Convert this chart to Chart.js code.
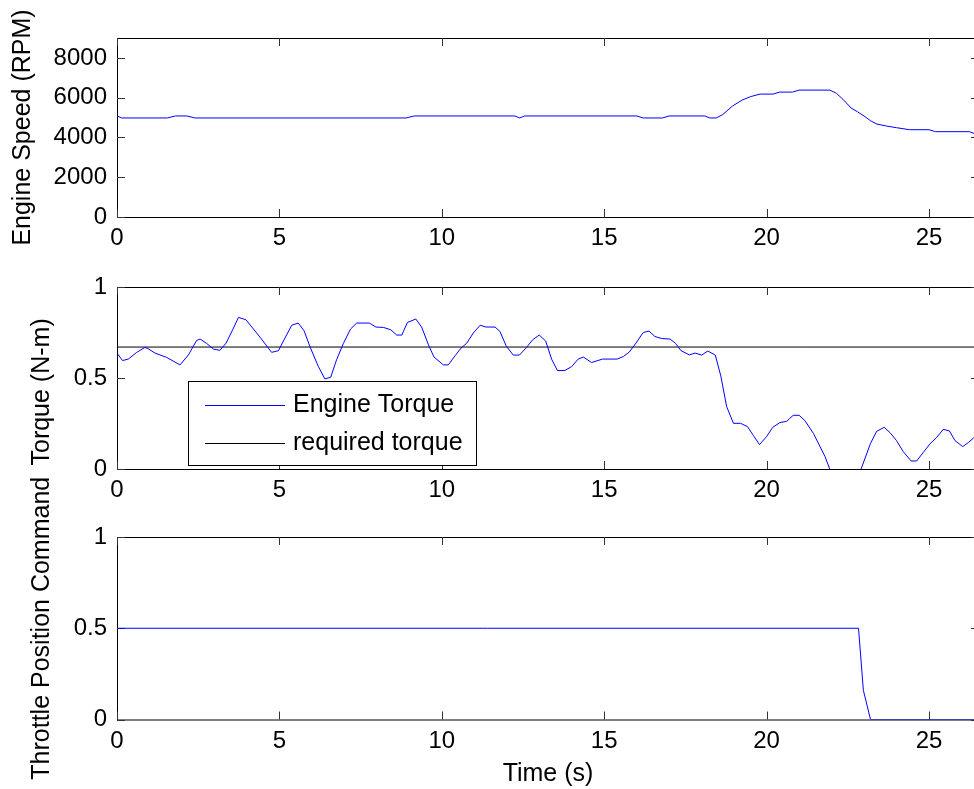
<!DOCTYPE html>
<html>
<head>
<meta charset="utf-8">
<script src="https://cdn.jsdelivr.net/npm/chart.js@4.4.1/dist/chart.umd.min.js"></script>
<style>
  body { margin: 0; background: #fff; }
  #wrap { position: relative; width: 974px; height: 789px; overflow: hidden; background: #fff; }
  canvas { position: absolute; left: 0; }
</style>
</head>
<body>
<div id="wrap">
  <canvas id="speedChart" width="990" height="260" style="top:0px"></canvas>
  <canvas id="torqueChart" width="990" height="255" style="top:255px"></canvas>
  <canvas id="throttleChart" width="990" height="319" style="top:470px"></canvas>
</div>
<script>
// ---- data ----
const xTicks = [0, 5, 10, 15, 20, 25];
const xMax = 26.54;

const speedTime = [0, 0.15, 1.55, 1.8, 2.15, 2.4, 8.9, 9.15, 12.25, 12.4, 12.55, 16.0, 16.2, 16.8, 17.0, 18.1, 18.25, 18.45,
  18.65, 18.95, 19.25, 19.5, 19.8, 20.2, 20.4, 20.8, 21.0, 21.95, 22.15, 22.35, 22.6, 22.8, 23.0, 23.2, 23.4, 23.7,
  24.0, 24.2, 24.4, 25.0, 25.2, 26.25, 26.4, 26.55];
const speedRpm = [5080, 4980, 4980, 5080, 5080, 4980, 4980, 5080, 5080, 4980, 5080, 5080, 4980, 4980, 5080, 5080, 4980, 4980,
  5150, 5580, 5880, 6050, 6180, 6180, 6280, 6280, 6380, 6380, 6220, 5920, 5480, 5290, 5080, 4840, 4670, 4570,
  4490, 4440, 4390, 4390, 4290, 4290, 4190, 4150];
const speedTicks = [0, 2000, 4000, 6000, 8000];

const torqueTime = [0, 0.17, 0.35, 0.6, 0.86, 0.95, 1.17, 1.53, 1.94, 2.2, 2.45, 2.56, 2.76, 2.97, 3.17, 3.36, 3.56, 3.74,
  3.97, 4.2, 4.4, 4.76, 4.97, 5.17, 5.38, 5.58, 5.76, 5.96, 6.2, 6.4, 6.58, 6.76, 6.97, 7.19, 7.38, 7.77, 7.97, 8.2,
  8.43, 8.61, 8.77, 8.94, 9.2, 9.38, 9.59, 9.76, 10.05, 10.2, 10.41, 10.59, 10.77, 10.97, 11.18, 11.36, 11.64, 11.79,
  11.98, 12.2, 12.39, 12.59, 12.8, 13.0, 13.2, 13.38, 13.56, 13.79, 14.0, 14.2, 14.36, 14.61, 14.95, 15.4, 15.59,
  15.77, 15.98, 16.2, 16.38, 16.56, 16.77, 17.03, 17.2, 17.36, 17.62, 17.8, 18.0, 18.19, 18.42, 18.59, 18.77, 18.98,
  19.2, 19.41, 19.59, 19.78, 20.0, 20.19, 20.41, 20.62, 20.82, 21.0, 21.18, 21.44, 21.62, 21.8, 22.05, 22.4, 22.75,
  22.91, 23.2, 23.39, 23.62, 23.8, 24.0, 24.21, 24.45, 24.62, 24.82, 25.03, 25.24, 25.44, 25.63, 25.8, 26.04, 26.21,
  26.38, 26.55];
const torqueVal = [0.637, 0.596, 0.604, 0.64, 0.668, 0.662, 0.637, 0.613, 0.572, 0.627, 0.706, 0.714, 0.69, 0.659, 0.652,
  0.692, 0.765, 0.833, 0.82, 0.769, 0.725, 0.641, 0.65, 0.719, 0.79, 0.802, 0.759, 0.664, 0.563, 0.495, 0.504, 0.6,
  0.69, 0.769, 0.802, 0.802, 0.78, 0.778, 0.765, 0.736, 0.736, 0.805, 0.824, 0.78, 0.682, 0.615, 0.572, 0.572, 0.622,
  0.664, 0.692, 0.747, 0.79, 0.78, 0.78, 0.756, 0.677, 0.626, 0.626, 0.664, 0.71, 0.736, 0.703, 0.604, 0.541, 0.541,
  0.563, 0.604, 0.615, 0.585, 0.604, 0.604, 0.618, 0.642, 0.692, 0.75, 0.758, 0.728, 0.717, 0.714, 0.69, 0.651,
  0.627, 0.637, 0.626, 0.648, 0.626, 0.512, 0.343, 0.251, 0.251, 0.233, 0.185, 0.134, 0.178, 0.229, 0.255, 0.262,
  0.295, 0.295, 0.266, 0.196, 0.132, 0.068, -0.05, -0.1, -0.06, 0.0, 0.141, 0.207, 0.229, 0.2, 0.156, 0.095, 0.044,
  0.044, 0.09, 0.138, 0.174, 0.218, 0.209, 0.156, 0.123, 0.145, 0.172, 0.2];
const requiredTorque = 0.67;
const unitTicks = [0, 0.5, 1];

const throttleTime = [0, 22.83, 22.98, 23.2, 26.55];
const throttleVal = [0.5, 0.5, 0.16, 0, 0];

// ---- helpers ----
const toPoints = (xs, ys) => xs.map((t, i) => ({ x: t, y: ys[i] }));

Chart.defaults.font.family = "'Liberation Sans', Arial, Helvetica, sans-serif";
Chart.defaults.color = '#000';

// MATLAB style box with inward tick marks
const axesBox = {
  id: 'axesBox',
  beforeDatasetsDraw(chart) {
    const { ctx, chartArea: a } = chart;
    const x = chart.scales.x, y = chart.scales.y;
    const len = 8;
    ctx.save();
    ctx.strokeStyle = '#000';
    ctx.lineWidth = 1;
    ctx.strokeRect(a.left + 0.5, a.top + 0.5, a.right - a.left, a.bottom - a.top);
    ctx.strokeStyle = '#333';
    ctx.beginPath();
    x.ticks.forEach(t => {
      let px = Math.round(x.getPixelForValue(t.value)) + 0.5;
      ctx.moveTo(px, a.bottom); ctx.lineTo(px, a.bottom - len);
      ctx.moveTo(px, a.top); ctx.lineTo(px, a.top + len);
    });
    y.ticks.forEach(t => {
      let py = Math.round(y.getPixelForValue(t.value)) + 0.5;
      ctx.moveTo(a.left, py); ctx.lineTo(a.left + len, py);
      ctx.moveTo(a.right, py); ctx.lineTo(a.right - len, py);
    });
    ctx.stroke();
    ctx.restore();
  }
};

// legend box placed inside the torque axes
const boxLegend = {
  id: 'boxLegend',
  afterDatasetsDraw(chart) {
    const ctx = chart.ctx;
    let bx = 188, by = 126, bw = 288, bh = 84;
    ctx.save();
    ctx.fillStyle = '#fff';
    ctx.fillRect(bx, by, bw, bh);
    ctx.strokeStyle = '#000';
    ctx.lineWidth = 1;
    ctx.strokeRect(bx + 0.5, by + 0.5, bw, bh);
    ctx.font = "25px 'Liberation Sans', Arial, sans-serif";
    ctx.textBaseline = 'middle';
    chart.data.datasets.forEach((ds, i) => {
      let ly = by + 24 + i * 38;
      ctx.strokeStyle = ds.borderColor;
      ctx.beginPath();
      ctx.moveTo(205, ly + 0.5);
      ctx.lineTo(285, ly + 0.5);
      ctx.stroke();
      ctx.fillStyle = '#000';
      ctx.fillText(ds.label, 293, ly);
    });
    ctx.restore();
  }
};

const makeChart = (id, datasets, yMax, yTicks, yTitle, titlePad, padTop, xHeight, xTitle) => {
  return new Chart(document.getElementById(id), {
    type: 'line',
    data: { datasets: datasets },
    plugins: id === 'torqueChart' ? [axesBox, boxLegend] : [axesBox],
    options: {
      responsive: false,
      animation: false,
      devicePixelRatio: 1,
      layout: { padding: { top: padTop, right: 11, left: 0, bottom: 0 } },
      plugins: { legend: { display: false }, tooltip: { enabled: false } },
      elements: { point: { radius: 0 }, line: { borderWidth: 1, tension: 0 } },
      scales: {
        x: {
          type: 'linear',
          min: 0,
          max: xMax,
          grid: { display: false, drawTicks: false },
          border: { display: false },
          afterBuildTicks: s => { s.ticks = xTicks.map(v => ({ value: v })); },
          afterFit: s => { s.height = xHeight; },
          ticks: { font: { size: 24 }, padding: 7, maxRotation: 0, callback: v => String(v) },
          title: { display: !!xTitle, text: xTitle || '', font: { size: 25 }, padding: { top: 0, bottom: 0 } }
        },
        y: {
          min: 0,
          max: yMax,
          grid: { display: false, drawTicks: false },
          border: { display: false },
          afterBuildTicks: s => { s.ticks = yTicks.map(v => ({ value: v })); },
          afterFit: s => { s.width = 117; },
          ticks: { font: { size: 24 }, padding: 10, callback: v => String(v) },
          title: { display: true, text: yTitle, font: { size: 25 }, padding: { top: titlePad, bottom: 0 } }
        }
      }
    }
  });
};

makeChart('speedChart', [{
  label: 'Engine Speed',
  data: toPoints(speedTime, speedRpm),
  borderColor: '#0000ff'
}], 9000, speedTicks, 'Engine Speed (RPM)', 8, 38, 43, null);

// trailing spaces push the rotated label a little lower, as in the original
makeChart('torqueChart', [{
  label: 'Engine Torque',
  data: toPoints(torqueTime, torqueVal),
  borderColor: '#0000ff'
}, {
  label: 'required torque',
  data: toPoints([0, xMax], [requiredTorque, requiredTorque]),
  borderColor: '#000000'
}], 1, unitTicks, 'Torque (N-m)    ', 27, 32, 41, null);

makeChart('throttleChart', [{
  label: 'Throttle Position Command',
  data: toPoints(throttleTime, throttleVal),
  borderColor: '#0000ff'
}], 1, unitTicks, 'Throttle Position Command', 27, 67, 69.5, 'Time (s)');
</script>
</body>
</html>
